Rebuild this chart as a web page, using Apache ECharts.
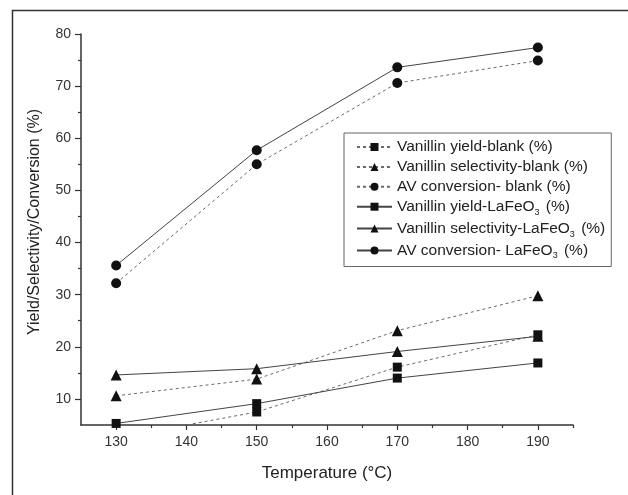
<!DOCTYPE html>
<html>
<head>
<meta charset="utf-8">
<script src="https://cdn.jsdelivr.net/npm/echarts@6/dist/echarts.min.js"></script>
<style>
html, body { margin: 0; padding: 0; background: #fff; }
#chart { width: 628px; height: 495px; }
</style>
</head>
<body>
<div id="chart"></div>
<script>
// temperatures (°C)
var temps = [130, 150, 170, 190];

// values (%)
var yieldBlank = [2.5, 7.5, 16.1, 22.3];
var selectBlank = [10.6, 13.8, 23.1, 29.8];
var convBlank = [32.2, 55.0, 70.6, 74.9];
var yieldLa = [5.3, 9.1, 14.0, 16.9];
var selectLa = [14.6, 15.8, 19.1, 22.0];
var convLa = [35.6, 57.7, 73.6, 77.4];

// axis ticks
var xMajor = [130, 140, 150, 160, 170, 180, 190];
var xMinor = [135, 145, 155, 165, 175, 185, 195];
var yMajor = [10, 20, 30, 40, 50, 60, 70, 80];
var yMinor = [15, 25, 35, 45, 55, 65, 75];

var FONT = 'Liberation Sans, Arial, sans-serif';

function pairs(vals) {
    return temps.map(function (t, i) { return [t, vals[i]]; });
}

//构造一条折线
function makeSeries(name, vals, symbol, size, dashed) {
    return {
        name: name,
        type: 'line',
        data: pairs(vals),
        symbol: symbol,
        symbolSize: size,
        clip: true,
        itemStyle: { color: '#111' },
        lineStyle: dashed ? { color: '#6a6a6a', width: 1, type: [3, 3] } : { color: '#444', width: 1 },
        emphasis: { disabled: true }
    };
}

var chart = echarts.init(document.getElementById('chart'));

var axisLine = { show: true, lineStyle: { color: '#333', width: 1.5 } };

var option = {
    backgroundColor: '#fff',
    animation: false,
    textStyle: { fontFamily: FONT },
    graphic: [{
        type: 'rect',
        shape: { x: 12.5, y: 10.5, width: 700, height: 600 },
        style: { fill: null, stroke: '#333', lineWidth: 1.5 },
        silent: true
    }],
    grid: { left: 81, right: 55, top: 34, bottom: 70 },
    legend: {
        orient: 'vertical',
        left: 344,
        top: 133,
        padding: [6, 6, 6, 12],
        itemWidth: 35,
        itemHeight: 10,
        itemGap: 3.9,
        borderColor: '#666',
        borderWidth: 1,
        backgroundColor: '#fff',
        data: [
            'Vanillin yield-blank (%)',
            'Vanillin selectivity-blank (%)',
            'AV conversion- blank (%)',
            'Vanillin yield-LaFeO3 (%)',
            'Vanillin selectivity-LaFeO3 (%)',
            'AV conversion- LaFeO3 (%)'
        ],
        formatter: function (name) {
            var k = name.indexOf('LaFeO3');
            if (k < 0) return '{n|' + name + '}';
            return '{n|' + name.slice(0, k + 5) + '}{sub|3}{n|' + name.slice(k + 6) + '}';
        },
        textStyle: {
            color: '#222',
            fontSize: 15.5,
            fontFamily: FONT,
            rich: {
                n: { fontSize: 15.5, lineHeight: 20, fontFamily: FONT, color: '#222' },
                sub: { fontSize: 9, lineHeight: 11, fontFamily: FONT, color: '#222', verticalAlign: 'bottom', padding: [0, 2, 0, 0] }
            }
        }
    },
    xAxis: [{
        type: 'value',
        min: 125,
        max: 195,
        name: 'Temperature (°C)',
        nameLocation: 'middle',
        nameGap: 40,
        nameTextStyle: { fontSize: 17, color: '#222', fontFamily: FONT },
        axisLine: axisLine,
        axisTick: { show: true, length: 5, customValues: xMajor, lineStyle: { color: '#333', width: 1.2 } },
        axisLabel: { customValues: xMajor, fontSize: 14, color: '#333', margin: 10 },
        splitLine: { show: false }
    }, {
        type: 'value',
        min: 125,
        max: 195,
        position: 'bottom',
        axisLine: { show: false },
        axisTick: { show: true, length: 3, customValues: xMinor, lineStyle: { color: '#333', width: 1.2 } },
        axisLabel: { show: false },
        splitLine: { show: false }
    }],
    yAxis: [{
        type: 'value',
        min: 5,
        max: 80,
        name: 'Yield/Selectivity/Conversion (%)',
        nameLocation: 'middle',
        nameGap: 38,
        nameTextStyle: { fontSize: 16, color: '#222', fontFamily: FONT, padding: [0, 0, 0, 15] },
        axisLine: axisLine,
        axisTick: { show: true, length: 6, customValues: yMajor, lineStyle: { color: '#333', width: 1.2 } },
        axisLabel: { customValues: yMajor, fontSize: 14, color: '#333', margin: 10 },
        splitLine: { show: false }
    }, {
        type: 'value',
        min: 5,
        max: 80,
        position: 'left',
        axisLine: { show: false },
        axisTick: { show: true, length: 3, customValues: yMinor, lineStyle: { color: '#333', width: 1.2 } },
        axisLabel: { show: false },
        splitLine: { show: false }
    }],
    series: [
        makeSeries('Vanillin yield-blank (%)', yieldBlank, 'rect', 9, true),
        makeSeries('Vanillin selectivity-blank (%)', selectBlank, 'triangle', 11, true),
        makeSeries('AV conversion- blank (%)', convBlank, 'circle', 10, true),
        makeSeries('Vanillin yield-LaFeO3 (%)', yieldLa, 'rect', 9, false),
        makeSeries('Vanillin selectivity-LaFeO3 (%)', selectLa, 'triangle', 11, false),
        makeSeries('AV conversion- LaFeO3 (%)', convLa, 'circle', 10, false)
    ]
};

chart.setOption(option);
</script>
</body>
</html>
